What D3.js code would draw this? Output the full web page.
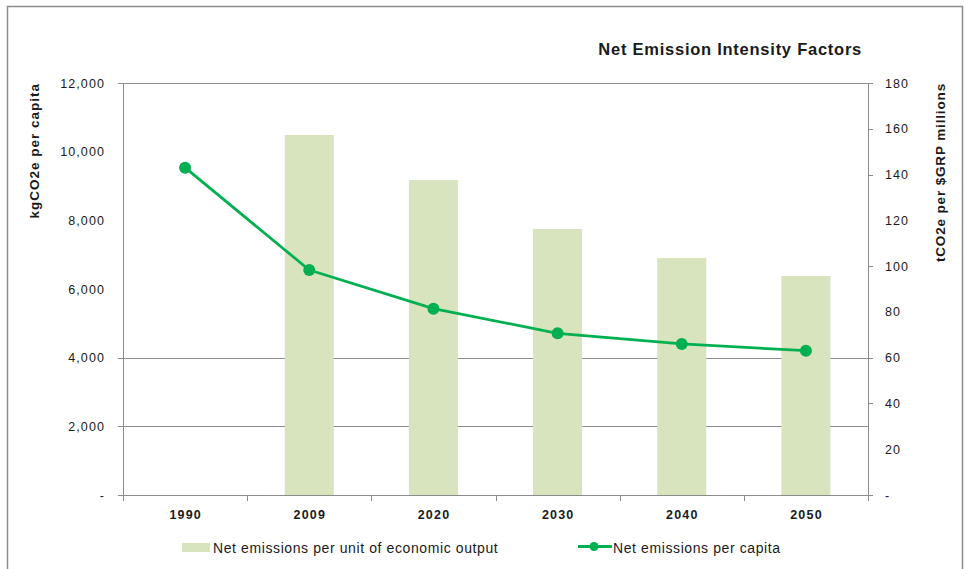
<!DOCTYPE html>
<html>
<head>
<meta charset="utf-8">
<script src="https://cdn.jsdelivr.net/npm/d3@7"></script>
<style>
  html, body { margin: 0; padding: 0; background: #fff; }
  svg { display: block; font-family: "Liberation Sans", Arial, sans-serif; }
</style>
</head>
<body>
<svg id="chart" width="965" height="569"></svg>
<script>
// Years on the category axis
const years = ["1990", "2009", "2020", "2030", "2040", "2050"];
// tCO2e per $GRP millions (bars, right axis); no value for 1990
const perOutput = [null, 157.3, 137.6, 116.2, 103.5, 95.7];
// kgCO2e per capita (line, left axis)
const perCapita = [9534, 6554, 5427, 4710, 4399, 4204];
// Axis tick values
const leftTicks = [0, 2000, 4000, 6000, 8000, 10000, 12000];
const rightTicks = [0, 20, 40, 60, 80, 100, 120, 140, 160, 180];
const gridValues = [2000, 4000, 12000];
const leftMarks = [0, 2000, 4000, 12000];
const rightMarks = [0, 40, 60, 100, 140, 160, 180];

const svg = d3.select("#chart");
const W = 965, H = 569;
const m = { left: 123, right: 868, top: 83, bottom: 495 };

const barColor = "#d7e4bd";
const lineColor = "#00b050";
const axisColor = "#8c8c8c";
const textColor = "#1a1a1a";

// outer frame
svg.append("rect")
  .attr("x", 7.5).attr("y", 6.5)
  .attr("width", W - 10).attr("height", H)
  .attr("fill", "none").attr("stroke", "#8c8c8c").attr("stroke-width", 1.5);

const xStep = d3.scaleBand().domain(years).range([m.left, m.right]);
const yL = d3.scaleLinear().domain([0, 12000]).range([m.bottom, m.top]);
const yR = d3.scaleLinear().domain([0, 180]).range([m.bottom, m.top]);
const cxOf = y => xStep(y) + xStep.bandwidth() / 2;

// gridlines
svg.append("g").selectAll("line").data(gridValues).join("line")
  .attr("x1", m.left).attr("x2", m.right)
  .attr("y1", d => Math.round(yL(d)) + 0.5).attr("y2", d => Math.round(yL(d)) + 0.5)
  .attr("stroke", axisColor).attr("stroke-width", 1);

// bars
svg.append("g").selectAll("rect")
  .data(years.map((y, i) => ({ y, v: perOutput[i] })).filter(d => d.v != null))
  .join("rect")
  .attr("x", d => cxOf(d.y) - 24.5)
  .attr("width", 49)
  .attr("y", d => yR(d.v))
  .attr("height", d => m.bottom - yR(d.v))
  .attr("fill", barColor);

// left axis
const fmtL = d => d === 0 ? "-" : d3.format(",")(d);
svg.append("line").attr("x1", m.left + 0.5).attr("x2", m.left + 0.5)
  .attr("y1", m.top).attr("y2", m.bottom).attr("stroke", axisColor);
svg.append("g").selectAll("line").data(leftMarks).join("line")
  .attr("x1", m.left - 5).attr("x2", m.left)
  .attr("y1", d => Math.round(yL(d)) + 0.5).attr("y2", d => Math.round(yL(d)) + 0.5)
  .attr("stroke", axisColor);
svg.append("g").selectAll("text").data(leftTicks).join("text")
  .attr("x", 105).attr("y", d => yL(d) + 4.5)
  .attr("text-anchor", "end").attr("font-size", 12.5).attr("letter-spacing", 1.1)
  .attr("fill", textColor)
  .text(fmtL);

// right axis
const fmtR = d => d === 0 ? "-" : String(d);
svg.append("line").attr("x1", m.right + 0.5).attr("x2", m.right + 0.5)
  .attr("y1", m.top).attr("y2", m.bottom).attr("stroke", axisColor);
svg.append("g").selectAll("line").data(rightMarks).join("line")
  .attr("x1", m.right).attr("x2", m.right + 5)
  .attr("y1", d => Math.round(yR(d)) + 0.5).attr("y2", d => Math.round(yR(d)) + 0.5)
  .attr("stroke", axisColor);
svg.append("g").selectAll("text").data(rightTicks).join("text")
  .attr("x", 885).attr("y", d => yR(d) + 4.5)
  .attr("text-anchor", "start").attr("font-size", 12.5).attr("letter-spacing", 1.1)
  .attr("fill", textColor)
  .text(fmtR);

// category axis
svg.append("line").attr("x1", m.left - 5).attr("x2", m.right)
  .attr("y1", m.bottom + 0.5).attr("y2", m.bottom + 0.5).attr("stroke", axisColor);
const bounds = years.map(y => xStep(y)).concat([m.right]);
svg.append("g").selectAll("line").data(bounds).join("line")
  .attr("x1", d => Math.round(d) + 0.5).attr("x2", d => Math.round(d) + 0.5)
  .attr("y1", m.bottom).attr("y2", m.bottom + 6).attr("stroke", axisColor);
svg.append("g").selectAll("text").data(years).join("text")
  .attr("x", d => cxOf(d) + 0.6).attr("y", 518.5)
  .attr("text-anchor", "middle").attr("font-size", 12.5).attr("font-weight", "bold")
  .attr("letter-spacing", 1.2).attr("fill", textColor)
  .text(d => d);

// per-capita line
const pts = years.map((y, i) => ({ y, v: perCapita[i] }));
svg.append("path").datum(pts)
  .attr("d", d3.line().x(d => cxOf(d.y)).y(d => yL(d.v)))
  .attr("fill", "none").attr("stroke", lineColor).attr("stroke-width", 2.75)
  .attr("stroke-linejoin", "round");
svg.append("g").selectAll("circle").data(pts).join("circle")
  .attr("cx", d => cxOf(d.y)).attr("cy", d => yL(d.v)).attr("r", 6).attr("fill", lineColor);

// title
svg.append("text").attr("x", 862).attr("y", 55).attr("text-anchor", "end")
  .attr("font-size", 16.5).attr("font-weight", "bold").attr("letter-spacing", 0.75)
  .attr("fill", textColor)
  .text("Net Emission Intensity Factors");

// axis titles
svg.append("text").attr("transform", "translate(39,83) rotate(-90)")
  .attr("text-anchor", "end").attr("font-size", 13.5).attr("font-weight", "bold")
  .attr("letter-spacing", 1.0).attr("fill", textColor)
  .text("kgCO2e per capita");
svg.append("text").attr("transform", "translate(945,83) rotate(-90)")
  .attr("text-anchor", "end").attr("font-size", 13.5).attr("font-weight", "bold")
  .attr("letter-spacing", 0.85).attr("fill", textColor)
  .text("tCO2e per $GRP millions");

// legend
const lg = svg.append("g");
lg.append("rect").attr("x", 182).attr("y", 543).attr("width", 28).attr("height", 9).attr("fill", barColor);
lg.append("text").attr("x", 213).attr("y", 553).attr("font-size", 14).attr("letter-spacing", 0.6)
  .attr("fill", textColor)
  .text("Net emissions per unit of economic output");
lg.append("line").attr("x1", 578).attr("x2", 612).attr("y1", 546.5).attr("y2", 546.5)
  .attr("stroke", lineColor).attr("stroke-width", 3);
lg.append("circle").attr("cx", 594).attr("cy", 546.5).attr("r", 4.5).attr("fill", lineColor);
lg.append("text").attr("x", 613).attr("y", 553).attr("font-size", 14).attr("letter-spacing", 0.6)
  .attr("fill", textColor)
  .text("Net emissions per capita");
</script>
</body>
</html>
